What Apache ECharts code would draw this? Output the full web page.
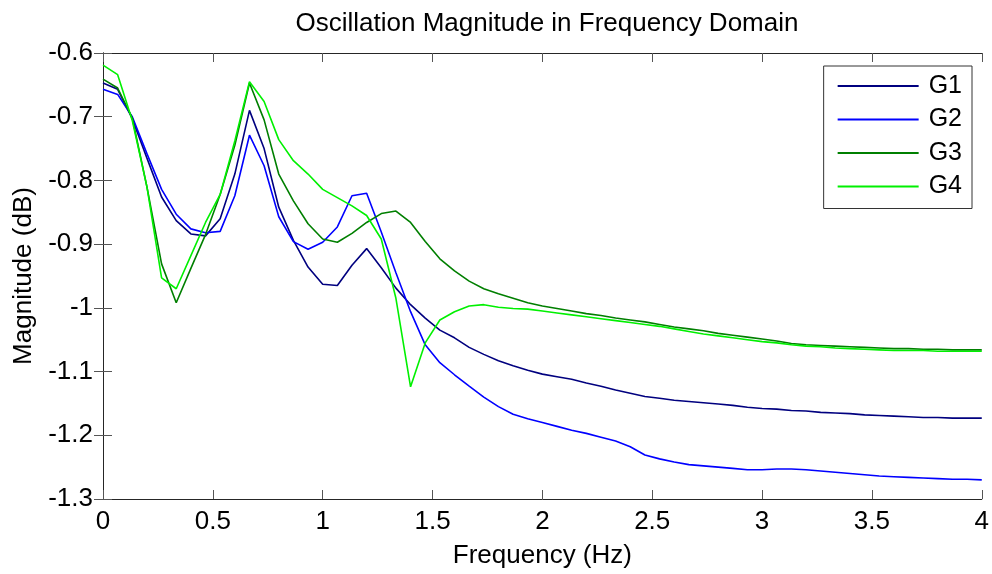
<!DOCTYPE html>
<html>
<head>
<meta charset="utf-8">
<title>Oscillation Magnitude in Frequency Domain</title>
<script src="https://cdn.jsdelivr.net/npm/echarts@6/dist/echarts.min.js"></script>
<style>
  html, body { margin: 0; padding: 0; background: #fff; }
  #chart { width: 992px; height: 574px; }
</style>
</head>
<body>
<div id="chart"></div>
<script>
// Frequency samples (Hz)
const freq = [
  0, 0.0667, 0.1333, 0.2, 0.2667, 0.3333, 0.4, 0.4667, 0.5333, 0.6,
  0.6667, 0.7333, 0.8, 0.8667, 0.9333, 1.0, 1.0667, 1.1333, 1.2, 1.2667,
  1.3333, 1.4, 1.4667, 1.5333, 1.6, 1.6667, 1.7333, 1.8, 1.8667, 1.9333,
  2.0, 2.0667, 2.1333, 2.2, 2.2667, 2.3333, 2.4, 2.4667, 2.5333, 2.6,
  2.6667, 2.7333, 2.8, 2.8667, 2.9333, 3.0, 3.0667, 3.1333, 3.2, 3.2667,
  3.3333, 3.4, 3.4667, 3.5333, 3.6, 3.6667, 3.7333, 3.8, 3.8667, 3.9333, 4.0
];

// Magnitude (dB) for each group
const g1 = [
  -0.647, -0.657, -0.703, -0.765, -0.826, -0.863, -0.884, -0.887, -0.860, -0.790,
  -0.690, -0.750, -0.842, -0.894, -0.936, -0.963, -0.965, -0.933, -0.907, -0.937,
  -0.969, -0.995, -1.016, -1.035, -1.047, -1.062, -1.073, -1.083, -1.091, -1.098,
  -1.104, -1.108, -1.112, -1.118, -1.123, -1.129, -1.134, -1.139, -1.142, -1.145,
  -1.147, -1.149, -1.151, -1.153, -1.156, -1.158, -1.159, -1.161, -1.162, -1.164,
  -1.165, -1.166, -1.168, -1.169, -1.170, -1.171, -1.172, -1.172, -1.173, -1.173, -1.173
];
const g2 = [
  -0.657, -0.665, -0.700, -0.758, -0.814, -0.853, -0.876, -0.882, -0.880, -0.824,
  -0.729, -0.777, -0.857, -0.896, -0.908, -0.897, -0.873, -0.824, -0.820, -0.881,
  -0.945, -1.006, -1.058, -1.086, -1.105, -1.123, -1.140, -1.155, -1.167, -1.174,
  -1.180, -1.186, -1.192, -1.197, -1.203, -1.209, -1.218, -1.231, -1.237, -1.242,
  -1.246, -1.248, -1.250, -1.252, -1.254, -1.254, -1.253, -1.253, -1.254, -1.256,
  -1.258, -1.260, -1.262, -1.264, -1.265, -1.266, -1.267, -1.268, -1.269, -1.269, -1.270
];
const g3 = [
  -0.641, -0.655, -0.702, -0.810, -0.931, -0.992, -0.938, -0.885, -0.822, -0.745,
  -0.647, -0.705, -0.790, -0.832, -0.868, -0.892, -0.897, -0.883, -0.866, -0.852,
  -0.848, -0.866, -0.896, -0.923, -0.942, -0.958, -0.970, -0.978, -0.985, -0.992,
  -0.997, -1.001, -1.005, -1.009, -1.012, -1.016, -1.019, -1.022, -1.026, -1.030,
  -1.033, -1.036, -1.040, -1.043, -1.046, -1.049, -1.052, -1.056, -1.058, -1.059,
  -1.060, -1.061, -1.062, -1.063, -1.064, -1.064, -1.065, -1.065, -1.066, -1.066, -1.066
];
const g4 = [
  -0.619, -0.634, -0.706, -0.810, -0.953, -0.970, -0.918, -0.866, -0.822, -0.738,
  -0.645, -0.676, -0.736, -0.769, -0.790, -0.814, -0.827, -0.840, -0.855, -0.892,
  -0.985, -1.124, -1.055, -1.019, -1.006, -0.997, -0.995, -0.999, -1.001, -1.002,
  -1.005, -1.008, -1.011, -1.014, -1.017, -1.020, -1.023, -1.026, -1.029, -1.033,
  -1.037, -1.041, -1.044, -1.047, -1.050, -1.053, -1.055, -1.058, -1.060, -1.061,
  -1.063, -1.064, -1.065, -1.066, -1.067, -1.067, -1.067, -1.068, -1.068, -1.068, -1.068
];

const groupNames = ['G1', 'G2', 'G3', 'G4'];
const groupColors = ['#00007F', '#0000FF', '#007F00', '#00F000'];
const groupValues = [g1, g2, g3, g4];

const FONT = '"Liberation Sans", Arial, Helvetica, sans-serif';
const textBase = { fontFamily: FONT, fontSize: 26, color: '#000' };

const frameLine = { show: true, lineStyle: { color: '#262626', width: 1 } };
const innerTick = { show: true, inside: true, length: 9, lineStyle: { color: '#555', width: 1 } };

const chart = echarts.init(document.getElementById('chart'), null, { renderer: 'canvas' });

chart.setOption({
  backgroundColor: '#fff',
  animation: false,
  title: {
    text: 'Oscillation Magnitude in Frequency Domain',
    left: 542,
    textAlign: 'center',
    top: 6,
    textStyle: Object.assign({}, textBase, { fontWeight: 'normal' })
  },
  grid: { left: 103, right: 9, top: 53, bottom: 72 },
  legend: {
    orient: 'vertical',
    right: 20,
    top: 66,
    padding: [7, 10, 9, 14],
    icon: 'rect',
    itemWidth: 81,
    itemHeight: 2,
    itemGap: 7.5,
    backgroundColor: '#fff',
    borderColor: '#333',
    borderWidth: 1,
    borderRadius: 0,
    data: groupNames,
    textStyle: Object.assign({}, textBase, { fontSize: 25, lineHeight: 26, padding: [0, 0, 0, 5] })
  },
  xAxis: [
    {
      type: 'value', position: 'bottom', min: 0, max: 4, interval: 0.5,
      name: 'Frequency (Hz)', nameLocation: 'middle', nameGap: 44,
      nameTextStyle: textBase,
      axisLine: frameLine, axisTick: innerTick,
      axisLabel: Object.assign({ margin: 10 }, textBase),
      splitLine: { show: false }
    },
    {
      type: 'value', position: 'top', min: 0, max: 4, interval: 0.5,
      axisLine: frameLine, axisTick: innerTick,
      axisLabel: { show: false }, splitLine: { show: false }
    }
  ],
  yAxis: [
    {
      type: 'value', position: 'left', min: -1.3, max: -0.6, interval: 0.1,
      name: 'Magnitude (dB)', nameLocation: 'middle', nameGap: 57,
      nameTextStyle: textBase,
      axisLine: frameLine, axisTick: innerTick,
      axisLabel: Object.assign({ margin: 10 }, textBase),
      splitLine: { show: false }
    },
    {
      type: 'value', position: 'right', min: -1.3, max: -0.6, interval: 0.1,
      axisLine: frameLine, axisTick: innerTick,
      axisLabel: { show: false }, splitLine: { show: false }
    }
  ],
  series: groupNames.map((name, i) => ({
    name: name,
    type: 'line',
    xAxisIndex: 0,
    yAxisIndex: 0,
    symbol: 'none',
    smooth: false,
    color: groupColors[i],
    lineStyle: { color: groupColors[i], width: 1.6 },
    data: freq.map((f, j) => [f, groupValues[i][j]])
  }))
});
</script>
</body>
</html>
